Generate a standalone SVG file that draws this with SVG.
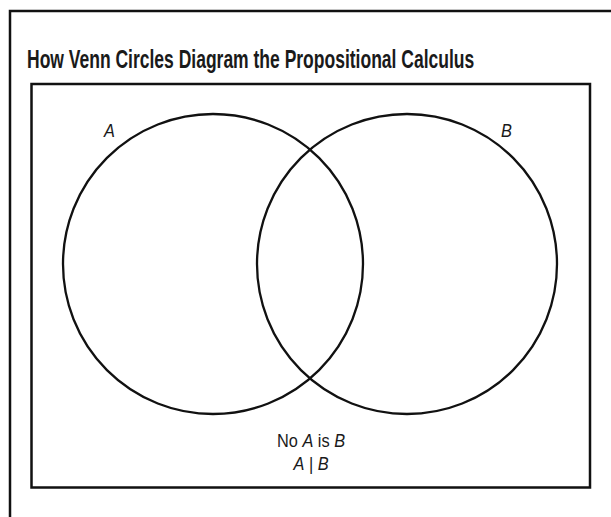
<svg xmlns="http://www.w3.org/2000/svg" width="611" height="517" viewBox="0 0 611 517">
<style>
.frame{fill:none;stroke:#111;stroke-width:2.5}
.circ{fill:none;stroke:#111;stroke-width:2.3}
.title{font-family:"Liberation Sans",Arial,sans-serif;font-weight:bold;font-size:26px;fill:#1a1a1a}
.lbl{font-family:"Liberation Sans",Arial,sans-serif;font-size:19px;fill:#1a1a1a}
.it{font-style:italic}
</style>
<rect width="611" height="517" fill="#fff"/>
<g id="outer-frame"><path class="frame" d="M10,517 V11 H611"/></g>
<g id="title" transform="translate(27,68) scale(0.673,1)">
<text class="title" x="0" y="0">How Venn Circles Diagram the Propositional Calculus</text>
</g>
<g id="universe"><rect class="frame" x="31.5" y="84" width="558.5" height="403.5"/></g>
<g id="circle-A"><circle class="circ" cx="213" cy="264" r="150"/><text class="lbl it" transform="translate(104,137) scale(0.86,1)" x="0" y="0">A</text></g>
<g id="circle-B"><circle class="circ" cx="407" cy="264" r="150"/><text class="lbl it" transform="translate(501,137) scale(0.86,1)" x="0" y="0">B</text></g>
<g id="connectors"></g>
<g id="caption" transform="translate(311,0) scale(0.86,1)">
<text class="lbl" x="0" y="447" text-anchor="middle">No <tspan class="it">A</tspan> is <tspan class="it">B</tspan></text>
<text class="lbl" x="0" y="470" text-anchor="middle"><tspan class="it">A</tspan> | <tspan class="it">B</tspan></text>
</g>
</svg>
